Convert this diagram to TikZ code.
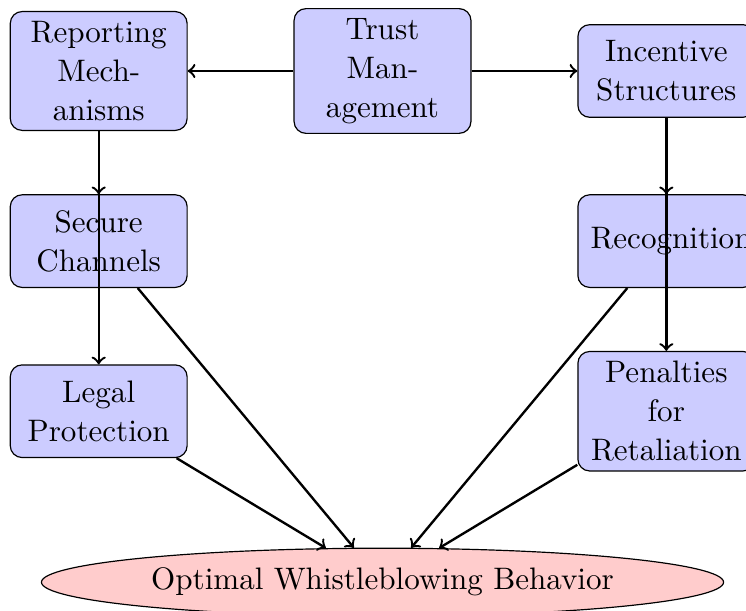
\documentclass[tikz,border=0pt]{standalone}
\usepackage{tikz}
\usetikzlibrary{shapes.geometric}
\tikzset{box/.style={rectangle,rounded corners,draw,fill=blue!20,text width=1.8cm,minimum width=2.1cm,minimum height=1.1cm,align=center,font=\fontsize{10.5}{13.1}\selectfont}}
\tikzset{goal/.style={ellipse,draw,fill=red!20,font=\fontsize{10.5}{13.1}\selectfont}}
\tikzset{link/.style={->,thick}}

\begin{document}
\begin{tikzpicture}
\useasboundingbox (-4.542,0.843) rectangle (4.316,-6.412);

\node [box] (trust) at (0,0) {Trust Management};
\node [box] (report) at (-3.37,0) {Reporting Mechanisms};
\node [box] (incent) at (3.37,0) {Incentive Structures};

\node [box] (secure) at (-3.37,-2.02) {Secure Channels};
\node [box] (recog) at (3.37,-2.02) {Recognition};

\node [box] (legal) at (-3.37,-4.04) {Legal Protection};
\node [box] (penal) at (3.37,-4.04) {Penalties for Retaliation};

\node [goal] (opt) at (0,-6.07) {Optimal Whistleblowing Behavior};

\draw [link] (trust) -- (report);
\draw [link] (trust) -- (incent);

\draw [link] (report) -- (secure);
\draw [link] (report) -- (legal);

\draw [link] (incent) -- (recog);
\draw [link] (incent) -- (penal);


\draw [link] (secure) -- (opt);
\draw [link] (legal) -- (opt);
\draw [link] (recog) -- (opt);
\draw [link] (penal) -- (opt);
\end{tikzpicture}
\end{document}
